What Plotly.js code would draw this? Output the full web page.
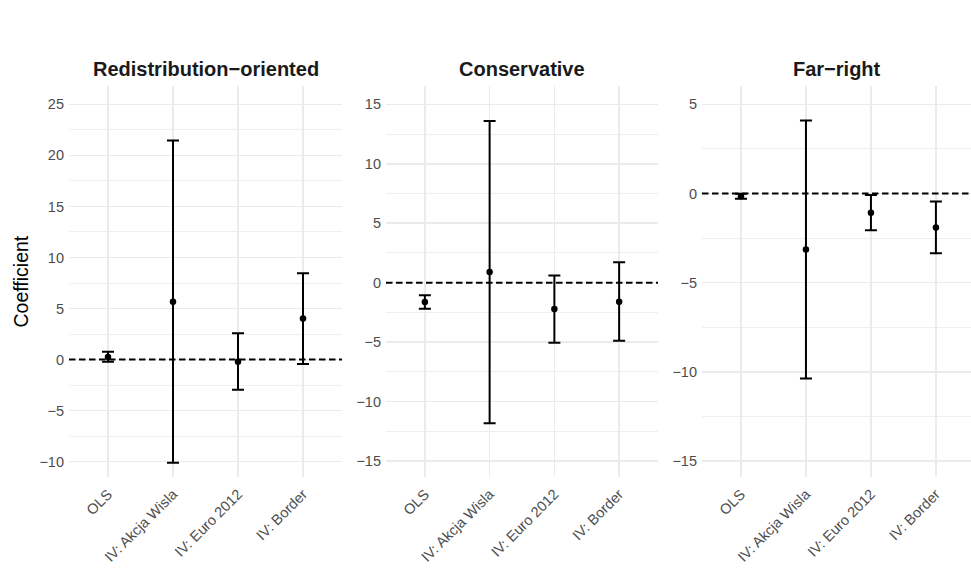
<!DOCTYPE html>
<html>
<head>
<meta charset="utf-8">
<script src="https://cdn.plot.ly/plotly-3.0.1.min.js"></script>
<style>html,body{margin:0;padding:0;background:#fff;}#chart{width:971px;height:582px;}</style>
</head>
<body>
<div id="chart"></div>
<script>
const categories = ["OLS", "IV: Akcja Wisla", "IV: Euro 2012", "IV: Border"];
const panelTitles = ["Redistribution\u2212oriented", "Conservative", "Far\u2212right"];

const redistEst  = [0.25, 5.66, -0.20, 4.03];
const redistLow  = [-0.22, -10.10, -2.96, -0.42];
const redistHigh = [0.78, 21.45, 2.57, 8.46];

const consEst  = [-1.63, 0.90, -2.22, -1.60];
const consLow  = [-2.19, -11.83, -5.05, -4.89];
const consHigh = [-1.07, 13.59, 0.61, 1.71];

const farEst  = [-0.16, -3.14, -1.08, -1.90];
const farLow  = [-0.30, -10.38, -2.06, -3.35];
const farHigh = [-0.02, 4.10, -0.08, -0.45];

const yTickVals = [
  [-10, -5, 0, 5, 10, 15, 20, 25],
  [-15, -10, -5, 0, 5, 10, 15],
  [-15, -10, -5, 0, 5]
];

const W = 971, H = 582;
const plotTop = 86, plotBottom = 477;
const panelsPx = [[69, 342], [386, 658], [702, 971]];
const xRanges = [[-0.6, 3.6], [-0.6, 3.6], [-0.6, 3.54]];
const yRanges = [[-11.5, 26.8], [-16.35, 16.54], [-15.9, 6.03]];

const series = [
  [redistEst, redistLow, redistHigh],
  [consEst, consLow, consHigh],
  [farEst, farLow, farHigh]
];

const font = "Liberation Sans, Arial, sans-serif";
const traces = [];
const layout = {
  width: W, height: H,
  margin: {l: 0, r: 0, t: 0, b: 0},
  paper_bgcolor: "#fff", plot_bgcolor: "#fff",
  showlegend: false,
  font: {family: font},
  shapes: [], annotations: []
};

series.forEach((s, i) => {
  const [est, low, high] = s;
  const n = i === 0 ? "" : String(i + 1);
  traces.push({
    type: "scatter", mode: "markers",
    x: categories, y: est,
    xaxis: "x" + n, yaxis: "y" + n,
    marker: {color: "#000", size: 6.5},
    error_y: {
      type: "data", symmetric: false,
      array: high.map((h, k) => h - est[k]),
      arrayminus: low.map((l, k) => est[k] - l),
      color: "#000", thickness: 2, width: 6
    },
    hoverinfo: "skip"
  });
  const dom = [panelsPx[i][0] / W, panelsPx[i][1] / W];
  layout["xaxis" + n] = {
    domain: dom, anchor: "y" + n,
    type: "category", range: xRanges[i],
    showgrid: true, gridcolor: "#ebebeb", gridwidth: 1.6,
    zeroline: false, showline: false, ticks: "",
    tickangle: -45, ticklabelstandoff: 5,
    tickfont: {family: font, size: 14.5, color: "#4d4d4d"},
    fixedrange: true
  };
  layout["yaxis" + n] = {
    domain: [(H - plotBottom) / H, (H - plotTop) / H], anchor: "x" + n,
    range: yRanges[i],
    tickmode: "array", tickvals: yTickVals[i],
    showgrid: true, gridcolor: "#ebebeb", gridwidth: 1.6,
    minor: {dtick: 2.5, tick0: 0, showgrid: true, gridcolor: "#ebebeb", gridwidth: 0.8, ticks: ""},
    zeroline: false, showline: false, ticks: "",
    ticklabelstandoff: 4,
    tickfont: {family: font, size: 14.5, color: "#4d4d4d"},
    fixedrange: true
  };
  layout.shapes.push({
    type: "line", xref: "x" + n + " domain", yref: "y" + n,
    x0: 0, x1: 1, y0: 0, y1: 0,
    line: {color: "#000", width: 2, dash: "6.5px,3.5px"},
    layer: "above"
  });
  layout.annotations.push({
    text: "<b>" + panelTitles[i] + "</b>",
    xref: "paper", yref: "paper",
    x: (dom[0] + dom[1]) / 2, y: (H - 69) / H,
    xanchor: "center", yanchor: "middle",
    showarrow: false,
    font: {family: font, size: 20, color: "#1a1a1a"}
  });
});

layout.annotations.push({
  text: "Coefficient", textangle: -90,
  xref: "paper", yref: "paper",
  x: 21 / W, y: (H - (plotTop + plotBottom) / 2) / H,
  xanchor: "center", yanchor: "middle", showarrow: false,
  font: {family: font, size: 19.5, color: "#000"}
});

Plotly.newPlot("chart", traces, layout, {displayModeBar: false, staticPlot: true});
</script>
</body>
</html>
